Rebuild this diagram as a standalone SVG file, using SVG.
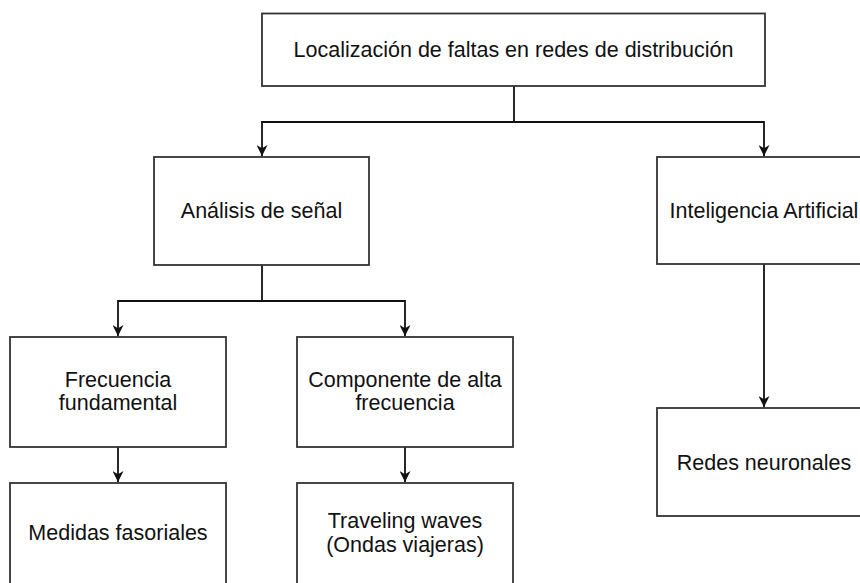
<svg xmlns="http://www.w3.org/2000/svg" width="860" height="583" viewBox="0 0 860 583">
<style>
.box{fill:#fff;stroke:#333;stroke-width:1.8}
.t{font-family:"Liberation Sans",Arial,sans-serif;font-size:21.5px;fill:#111;text-anchor:middle}
.e{fill:none;stroke:#111;stroke-width:1.8}
</style>
<defs>
<marker id="arr" viewBox="0 0 10 10" refX="10" refY="5" markerWidth="11" markerHeight="11" markerUnits="userSpaceOnUse" orient="auto">
<path d="M0,0 L10,5 L0,10 L3,5 Z" fill="#111"/>
</marker>
</defs>
<rect width="860" height="583" fill="#fff"/>
<g id="connectors">
<path class="e" d="M514,86 V122 H262 V156" marker-end="url(#arr)"/>
<path class="e" d="M514,122 H764 V156" marker-end="url(#arr)"/>
<path class="e" d="M262,265 V301 H118 V336" marker-end="url(#arr)"/>
<path class="e" d="M262,301 H405 V336" marker-end="url(#arr)"/>
<path class="e" d="M118,447 V482" marker-end="url(#arr)"/>
<path class="e" d="M405,447 V482" marker-end="url(#arr)"/>
<path class="e" d="M764,264 V407" marker-end="url(#arr)"/>
</g>
<g id="root"><rect class="box" x="262" y="13.5" width="503" height="72.5"/><text class="t" x="513.5" y="57">Localización de faltas en redes de distribución</text></g>
<g id="analisis"><rect class="box" x="154" y="157" width="215" height="108"/><text class="t" x="261.5" y="218">Análisis de señal</text></g>
<g id="ia"><rect class="box" x="657" y="157" width="214" height="107"/><text class="t" x="764" y="218">Inteligencia Artificial</text></g>
<g id="fundamental"><rect class="box" x="10" y="337" width="216" height="110"/><text class="t" x="118" y="387">Frecuencia</text><text class="t" x="118" y="410">fundamental</text></g>
<g id="altafrecuencia"><rect class="box" x="297" y="337" width="216" height="110"/><text class="t" x="405" y="387">Componente de alta</text><text class="t" x="405" y="410">frecuencia</text></g>
<g id="fasoriales"><rect class="box" x="10" y="483" width="216" height="108"/><text class="t" x="118" y="540">Medidas fasoriales</text></g>
<g id="traveling"><rect class="box" x="297" y="483" width="216" height="108"/><text class="t" x="405" y="528">Traveling waves</text><text class="t" x="405" y="552">(Ondas viajeras)</text></g>
<g id="redes"><rect class="box" x="657" y="408" width="214" height="108"/><text class="t" x="764" y="470">Redes neuronales</text></g>
</svg>
